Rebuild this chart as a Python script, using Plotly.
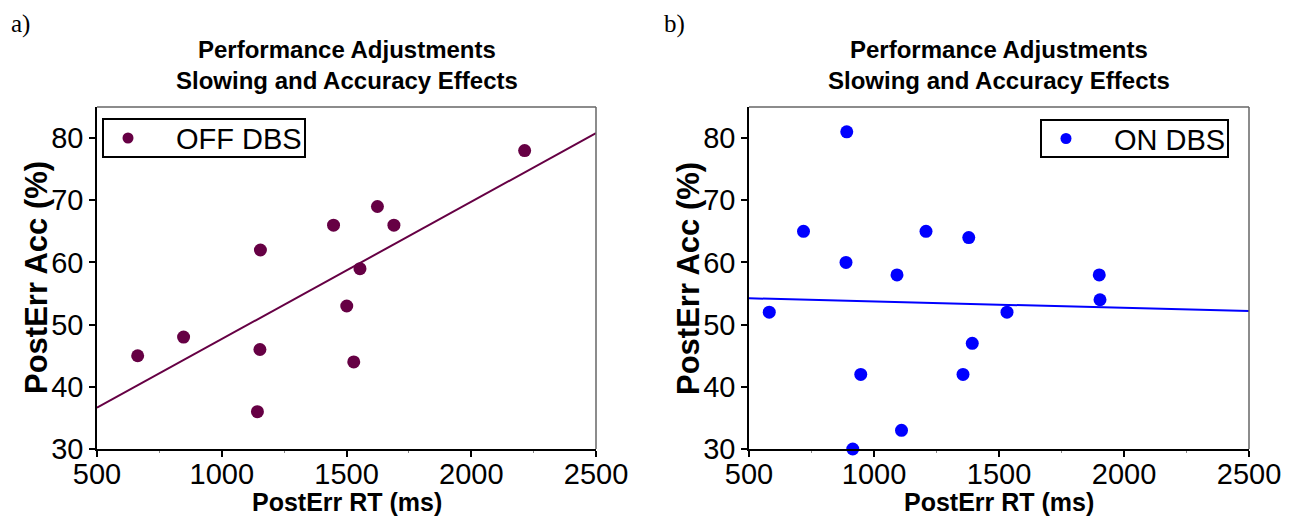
import numpy as np
import plotly.graph_objects as go

# window 1301x525; the page body adds an 8px margin, so the figure is drawn
# slightly smaller and all screen positions are offset by that margin
SW, SH = 1301, 525
OFF = 8
W, H = SW - 2 * OFF, SH - 2 * OFF

# ---- data ----
off_rt = [663, 847, 1155, 1153, 1448, 1624, 1690, 1554, 1501, 1529, 2214, 1143]
off_acc = [45, 48, 62, 46, 66, 69, 66, 59, 53, 44, 78, 36]
on_rt = [891, 718, 888, 581, 1092, 1208, 1379, 947, 1356, 1393, 1532, 1901, 1904, 915, 1110]
on_acc = [81, 65, 60, 52, 58, 65, 64, 42, 42, 47, 52, 58, 54, 30, 33]
x_ticks = [500, 1000, 1500, 2000, 2500]
y_ticks = [30, 40, 50, 60, 70, 80]
x_range = [500, 2500]
y_range = [30, 85]
title_lines = ["Performance Adjustments", "Slowing and Accuracy Effects"]
xlabel = "PostErr RT (ms)"
ylabel = "PostErr Acc (%)"
legend_names = ["OFF DBS", "ON DBS"]

OFF_COLOR = "#660044"
ON_COLOR = "#0000FF"
SANS = "Liberation Sans, Arial, sans-serif"


def px(xs):
    return (xs - OFF) / W


def py(ys):
    return 1 - (ys - OFF) / H


def fit_line(x, y):
    k, b = np.polyfit(x, y, 1)
    xs = np.array(x_range, dtype=float)
    return xs, k * xs + b


fig = go.Figure()

fx, fy = fit_line(off_rt, off_acc)
fig.add_trace(go.Scatter(x=fx, y=fy, mode="lines", line=dict(color=OFF_COLOR, width=2),
                         showlegend=False, xaxis="x", yaxis="y", hoverinfo="skip"))
fig.add_trace(go.Scatter(x=off_rt, y=off_acc, mode="markers", name=legend_names[0],
                         marker=dict(color=OFF_COLOR, size=13), cliponaxis=False,
                         showlegend=False, xaxis="x", yaxis="y"))
fx2, fy2 = fit_line(on_rt, on_acc)
fig.add_trace(go.Scatter(x=fx2, y=fy2, mode="lines", line=dict(color=ON_COLOR, width=2),
                         showlegend=False, xaxis="x2", yaxis="y2", hoverinfo="skip"))
fig.add_trace(go.Scatter(x=on_rt, y=on_acc, mode="markers", name=legend_names[1],
                         marker=dict(color=ON_COLOR, size=13), cliponaxis=False,
                         showlegend=False, xaxis="x2", yaxis="y2"))

xdom1 = [px(97), px(596)]
xdom2 = [px(749), px(1249)]
ydom = [py(449), py(107)]

tickfont = dict(family=SANS, size=29, color="black")


def xaxis_cfg(dom, anchor):
    return dict(domain=dom, anchor=anchor, range=x_range, tickvals=x_ticks,
                ticks="outside", ticklen=6, tickwidth=1.5, tickcolor="black",
                showline=True, linecolor="black", linewidth=1.5, showgrid=False,
                zeroline=False, tickfont=tickfont, ticklabelstandoff=-8, automargin=False,
                minor=dict(ticks="outside", dtick=250, tick0=500, ticklen=2, tickcolor="#888888",
                           tickwidth=1, showgrid=False))


def yaxis_cfg(anchor):
    return dict(domain=ydom, anchor=anchor, range=y_range, tickvals=y_ticks,
                ticks="outside", ticklen=6, tickwidth=1.5, tickcolor="black",
                showline=True, linecolor="black", linewidth=1.5, showgrid=False,
                zeroline=False, tickfont=tickfont, automargin=False)


shapes = []
for xr, yr in (("x domain", "y domain"), ("x2 domain", "y2 domain")):
    shapes.append(dict(type="line", xref=xr, yref=yr, x0=0, x1=1, y0=1, y1=1,
                       line=dict(color="#666666", width=1.5)))
    shapes.append(dict(type="line", xref=xr, yref=yr, x0=1, x1=1, y0=0, y1=1,
                       line=dict(color="#666666", width=1.5)))

annotations = []
titlefont = dict(family=SANS, size=24, color="black")
for dom in (xdom1, xdom2):
    cx = (dom[0] + dom[1]) / 2
    for i, line in enumerate(title_lines):
        annotations.append(dict(text="<b>" + line + "</b>", x=cx, y=py(50 + 30 * i),
                                xref="paper", yref="paper", showarrow=False,
                                xanchor="center", yanchor="middle", font=titlefont))
    annotations.append(dict(text="<b>" + xlabel + "</b>", x=cx, y=py(502),
                            xref="paper", yref="paper", showarrow=False,
                            xanchor="center", yanchor="middle",
                            font=dict(family=SANS, size=25, color="black")))
    annotations.append(dict(text="<b>" + ylabel + "</b>", x=dom[0] - 61 / W,
                            y=(ydom[0] + ydom[1]) / 2,
                            xref="paper", yref="paper", showarrow=False, textangle=-90,
                            xanchor="center", yanchor="middle",
                            font=dict(family=SANS, size=31, color="black")))

panelfont = dict(family="Liberation Serif, Times New Roman, serif", size=25, color="black")
annotations.append(dict(text="a)", x=px(9), y=py(24), xref="paper", yref="paper",
                        showarrow=False, xanchor="left", yanchor="middle", font=panelfont))
annotations.append(dict(text="b)", x=px(662), y=py(24), xref="paper", yref="paper",
                        showarrow=False, xanchor="left", yanchor="middle", font=panelfont))

# manual legend boxes
legfont = dict(family=SANS, size=29, color="black")
legends = [
    dict(box=(103, 305), y=(119, 157), mx=128, tx=175, color=OFF_COLOR, name=legend_names[0]),
    dict(box=(1041, 1228), y=(120, 157), mx=1066, tx=1113, color=ON_COLOR, name=legend_names[1]),
]
for lg in legends:
    shapes.append(dict(type="rect", xref="paper", yref="paper",
                       x0=px(lg["box"][0]), x1=px(lg["box"][1]),
                       y0=py(lg["y"][1]), y1=py(lg["y"][0]),
                       line=dict(color="black", width=2), fillcolor="white"))
    cy = (lg["y"][0] + lg["y"][1]) / 2
    r = 5.5
    shapes.append(dict(type="circle", xref="paper", yref="paper",
                       x0=px(lg["mx"] - r), x1=px(lg["mx"] + r),
                       y0=py(cy + r), y1=py(cy - r),
                       line=dict(width=0), fillcolor=lg["color"]))
    annotations.append(dict(text=lg["name"], x=px(lg["tx"] - 1), y=py(cy + 1),
                            xref="paper", yref="paper", showarrow=False,
                            xanchor="left", yanchor="middle", font=legfont))

fig.update_layout(
    width=W, height=H,
    margin=dict(l=0, r=0, t=0, b=0, autoexpand=False),
    paper_bgcolor="white", plot_bgcolor="white",
    xaxis=xaxis_cfg(xdom1, "y"), yaxis=yaxis_cfg("x"),
    xaxis2=xaxis_cfg(xdom2, "y2"), yaxis2=yaxis_cfg("x2"),
    shapes=shapes, annotations=annotations,
    showlegend=False,
)

fig.write_html("out.html")
